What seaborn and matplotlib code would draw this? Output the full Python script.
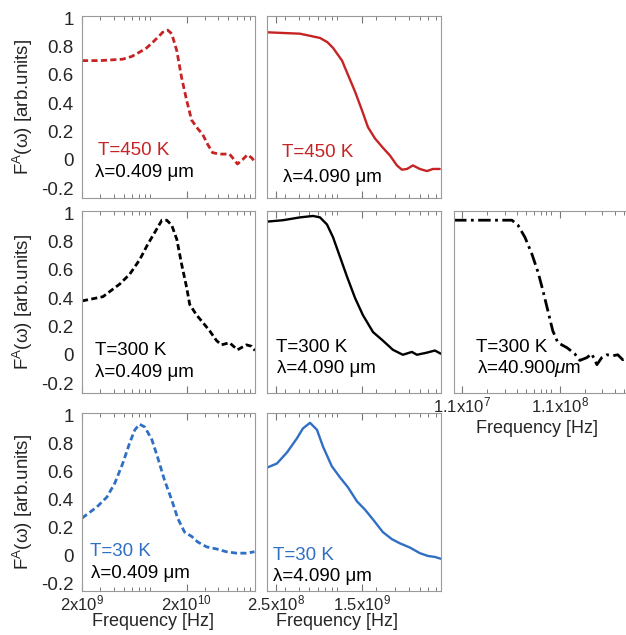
import numpy as np
import pandas as pd
import matplotlib
matplotlib.use("Agg")
import matplotlib.pyplot as plt
import seaborn as sns

# ---- data (frequency in Hz, F^A in arb. units) ----
# T=450 K, lambda=0.409 um
f_450_a = [2.0e9, 2.97e9, 4.9e9, 6.0e9, 7.1e9, 8.3e9, 9.5e9, 1.08e10, 1.18e10, 1.32e10, 1.44e10,
           1.61e10, 1.79e10, 2.0e10, 2.23e10, 2.55e10, 2.84e10, 3.17e10, 3.54e10, 4.12e10,
           5.14e10, 5.48e10, 6.12e10, 6.82e10, 7.62e10, 8.32e10, 8.9e10]
v_450_a = [0.70, 0.70, 0.71, 0.73, 0.76, 0.79, 0.83, 0.87, 0.90, 0.915, 0.89,
           0.77, 0.58, 0.42, 0.28, 0.22, 0.18, 0.11, 0.05, 0.04,
           0.04, 0.015, -0.03, 0.0, 0.035, 0.015, -0.01]

# T=450 K, lambda=4.090 um
f_450_b = [2.07e8, 4.12e8, 6.25e8, 7.3e8, 8.2e8, 9.9e8, 1.12e9, 1.30e9, 1.50e9, 1.70e9, 1.97e9,
           2.32e9, 2.69e9, 3.11e9, 3.45e9, 3.84e9, 4.34e9, 5.02e9, 5.82e9, 6.59e9, 7.6e9]
v_450_b = [0.90, 0.89, 0.86, 0.83, 0.79, 0.70, 0.60, 0.48, 0.35, 0.23, 0.15,
           0.085, 0.03, -0.04, -0.07, -0.065, -0.04, -0.065, -0.08, -0.065, -0.065]

# T=300 K, lambda=0.409 um
f_300_a = [2.0e9, 3.17e9, 4.6e9, 5.73e9, 7.1e9, 8.5e9, 1.04e10, 1.16e10, 1.29e10, 1.44e10,
           1.61e10, 1.79e10, 2.0e10, 2.14e10, 2.49e10, 2.84e10, 3.31e10, 3.86e10, 4.3e10,
           5.14e10, 6.12e10, 7.45e10, 8.32e10, 9.0e10]
v_300_a = [0.38, 0.41, 0.50, 0.57, 0.67, 0.78, 0.89, 0.95, 0.95, 0.915,
           0.815, 0.64, 0.475, 0.355, 0.28, 0.23, 0.17, 0.10, 0.07,
           0.085, 0.035, 0.07, 0.06, 0.03]

# T=300 K, lambda=4.090 um
f_300_b = [2.07e8, 2.89e8, 4.12e8, 5.41e8, 6.25e8, 7.23e8, 8.2e8, 9.5e8, 1.10e9, 1.30e9,
           1.53e9, 1.89e9, 2.32e9, 2.86e9, 3.52e9, 4.25e9, 4.72e9, 5.82e9, 6.87e9, 7.78e9]
v_300_b = [0.94, 0.95, 0.97, 0.98, 0.97, 0.92, 0.83, 0.69, 0.55, 0.40,
           0.28, 0.16, 0.10, 0.035, 0.0, 0.02, 0.0, 0.015, 0.03, 0.007]

# T=300 K, lambda=40.900 um
f_300_c = [9.1e6, 2.12e7, 3.56e7, 4.1e7, 4.83e7, 5.7e7, 6.6e7, 7.4e7, 8.3e7, 9.3e7,
           1.05e8, 1.30e8, 1.56e8, 1.76e8, 2.08e8, 2.33e8, 2.63e8, 2.95e8, 3.32e8,
           3.82e8, 4.3e8, 4.83e8, 5.57e8]
v_300_c = [0.95, 0.95, 0.95, 0.915, 0.83, 0.71, 0.58, 0.45, 0.31, 0.17,
           0.085, 0.05, 0.007, -0.04, -0.02, 0.007, -0.07, -0.02, 0.0,
           -0.007, 0.0, -0.035, -0.02]

# T=30 K, lambda=0.409 um
f_30_a = [2.0e9, 2.78e9, 3.46e9, 4.12e9, 4.9e9, 5.73e9, 6.4e9, 7.1e9, 7.96e9, 9.3e9,
          1.06e10, 1.23e10, 1.44e10, 1.64e10, 1.91e10, 2.23e10, 2.55e10, 3.1e10, 3.86e10,
          4.8e10, 5.98e10, 7.45e10, 8.9e10]
v_30_a = [0.27, 0.35, 0.42, 0.52, 0.66, 0.81, 0.90, 0.94, 0.92, 0.83,
          0.70, 0.54, 0.40, 0.27, 0.17, 0.14, 0.10, 0.065, 0.05,
          0.03, 0.02, 0.02, 0.03]

# T=30 K, lambda=4.090 um
f_30_b = [2.07e8, 2.55e8, 3.15e8, 3.87e8, 4.38e8, 5.08e8, 5.87e8, 6.66e8, 8.0e8, 9.5e8,
          1.12e9, 1.35e9, 1.60e9, 1.89e9, 2.32e9, 2.80e9, 3.31e9, 4.08e9, 5.02e9,
          5.94e9, 6.87e9, 7.78e9]
v_30_b = [0.63, 0.66, 0.74, 0.84, 0.91, 0.95, 0.90, 0.78, 0.64, 0.56,
          0.49, 0.39, 0.33, 0.26, 0.17, 0.12, 0.09, 0.06, 0.02,
          0.0, -0.007, -0.02]

temp_labels = ["T=450 K", "T=300 K", "T=30 K"]
temp_colors = ["#c62424", "black", "#2f6fc4"]
lambda_labels = ["λ=0.409 μm", "λ=4.090 μm", r"λ=40.900$\mu$m"]

# x axis ranges / ticks per column
col_xlim = [(2e9, 9e10), (2.07e8, 7.8e9), (9.1e6, 5.6e8)]
col_xticks = [[2e9, 2e10], [2.5e8, 1.5e9], [1.1e7, 1.1e8]]
col_xticklabels = [["2x10$^9$", "2x10$^{10}$"],
                   ["2.5x10$^8$", "1.5x10$^9$"],
                   ["1.1x10$^7$", "1.1x10$^8$"]]
ytick_vals = [-0.2, 0, 0.2, 0.4, 0.6, 0.8, 1]
ytick_labels = ["-0.2", "0", "0.2", "0.4", "0.6", "0.8", "1"]

# ---- style ----
sns.set_style("ticks")
plt.rcParams["font.family"] = ["Liberation Sans", "DejaVu Sans"]
plt.rcParams["mathtext.fontset"] = "custom"
plt.rcParams["mathtext.rm"] = "Liberation Sans"
plt.rcParams["mathtext.it"] = "Liberation Sans:italic"

fig = plt.figure(figsize=(6.26, 6.35), dpi=100)
W, H = 626, 635


def rect(l, r, t, b):
    return [l / W, 1 - b / H, (r - l) / W, (b - t) / H]


cols = [(82, 255), (267, 441), (454, 629)]
rows = [(16, 198), (211, 393), (413, 591)]
row_ylim = [(-0.27, 1.015), (-0.27, 1.015), (-0.25, 1.02)]

dash = (0, (2.2, 1.2))
dashdot = (0, (4.5, 1.6, 1.0, 1.6))

panels = [
    # row, col, freq, values, style, text positions (T, lambda) in axes coords
    (0, 0, f_450_a, v_450_a, dash, (0.09, 0.26), (0.075, 0.14)),
    (0, 1, f_450_b, v_450_b, "-", (0.086, 0.25), (0.092, 0.115)),
    (1, 0, f_300_a, v_300_a, dash, (0.075, 0.236), (0.075, 0.115)),
    (1, 1, f_300_b, v_300_b, "-", (0.05, 0.25), (0.057, 0.137)),
    (1, 2, f_300_c, v_300_c, dashdot, (0.126, 0.25), (0.13, 0.137)),
    (2, 0, f_30_a, v_30_a, dash, (0.046, 0.22), (0.052, 0.10)),
    (2, 1, f_30_b, v_30_b, "-", (0.035, 0.20), (0.035, 0.08)),
]

# panels that carry x tick labels and x label: (label x, label top y) in axes coords
xlabel_pos = {(2, 0): (0.41, -0.125), (2, 1): (0.40, -0.125), (1, 2): (0.475, -0.15)}

for r, c, fx, fy, ls, tpos, lpos in panels:
    ax = fig.add_axes(rect(cols[c][0], cols[c][1], rows[r][0], rows[r][1]))
    df = pd.DataFrame({"freq": fx, "FA": fy})
    sns.lineplot(data=df, x="freq", y="FA", ax=ax, color=temp_colors[r],
                 linestyle=ls, linewidth=2.0 if ls != "-" else 1.7, estimator=None)
    ax.set_xscale("log")
    ax.set_xlim(*col_xlim[c])
    ax.set_ylim(*row_ylim[r])
    ax.set_xticks(col_xticks[c])
    ax.set_yticks(ytick_vals)

    for sp in ax.spines.values():
        sp.set_visible(True)
        sp.set_color("#9a9a9a")
        sp.set_linewidth(0.8)
    ax.tick_params(axis="x", which="major", direction="in", top=True, bottom=True,
                   length=5, width=0.8, color="#777777", labelsize=12, pad=2)
    ax.tick_params(axis="x", which="minor", direction="in", top=True, bottom=True,
                   length=3, width=0.7, color="#777777")
    ax.tick_params(axis="y", which="both", direction="in", left=True, right=False,
                   length=0, labelsize=13.5, pad=6)

    if (r, c) in xlabel_pos:
        ax.set_xticklabels(col_xticklabels[c])
        ax.set_xlabel("Frequency [Hz]", fontsize=13)
        ax.xaxis.set_label_coords(*xlabel_pos[(r, c)])
    else:
        ax.set_xticklabels([])
        ax.set_xlabel("")

    if c == 0:
        ax.set_yticklabels(ytick_labels)
        ax.set_ylabel(r"F$^{\rm A}$(ω) [arb.units]", fontsize=13.5, labelpad=4)
    else:
        ax.set_yticklabels([])
        ax.set_ylabel("")

    ax.text(tpos[0], tpos[1], temp_labels[r], transform=ax.transAxes,
            color=temp_colors[r], fontsize=13.5, va="center", ha="left")
    ax.text(lpos[0], lpos[1], lambda_labels[c], transform=ax.transAxes,
            color="black", fontsize=13.5, va="center", ha="left")

fig.savefig("out.png", dpi=100)
